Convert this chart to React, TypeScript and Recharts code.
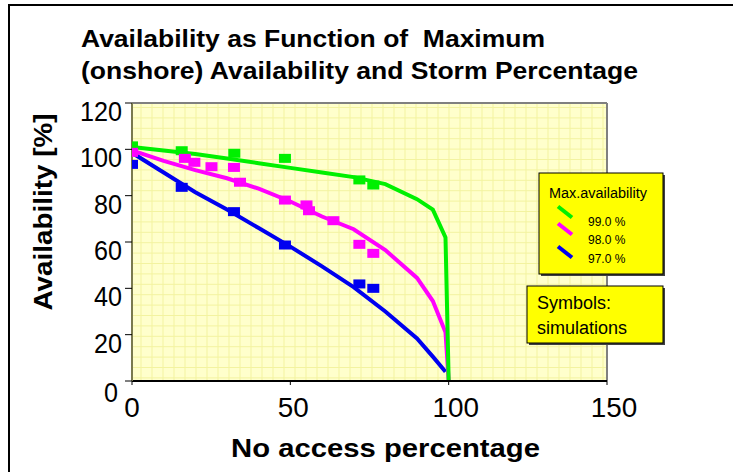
import React from 'react';
import { ComposedChart, Line, Scatter, XAxis, YAxis, CartesianGrid, ReferenceLine } from 'recharts';

// curve values (model)
const curveX = [0, 10, 20, 30, 40, 50, 60, 70, 80, 90, 95, 99, 100];
const avail99 = [101, 99.5, 98, 96, 94, 92, 90, 88, 85, 78.5, 74, 62, 0];
const avail98 = [99.5, 95, 91, 87.5, 83, 77.5, 71, 65.5, 56.5, 44.5, 34.5, 21, 0];
const avail97 = [98.5, 90, 81.5, 74, 66, 58, 49.5, 40.5, 30, 18.4, 10.5, 4, null];

// simulation points (squares)
const sim99X = [0, 15.7, 32.3, 48.3, 71.8, 76.2];
const sim99Y = [101.5, 99.4, 98.3, 96.1, 86.8, 84.6];
const sim98X = [0, 16.7, 19.7, 25.1, 32.2, 34.1, 48.3, 55.1, 55.9, 63.6, 71.8, 76.2];
const sim98Y = [98.7, 96.1, 94.4, 92.5, 92.2, 85.8, 78.1, 76, 73.5, 69.2, 59, 55.1];
const sim97X = [0, 15.7, 32.2, 48.3, 71.8, 76.2];
const sim97Y = [93.5, 83.6, 73.1, 58.7, 41.9, 40];

const xTicks = [0, 50, 100, 150];
const yTicks = [0, 20, 40, 60, 80, 100, 120];

const seriesNames = ['99.0 %', '98.0 %', '97.0 %'];
const seriesColors = ['#00F000', '#FF00FF', '#0000F0'];

const FONT = '"Liberation Sans", Arial, sans-serif';

const toPts = (xs: number[], ys: (number | null)[]) => xs.map((x, i) => ({ x, y: ys[i] }));

const curves = [toPts(curveX, avail99), toPts(curveX, avail98), toPts(curveX, avail97)];
const sims = [toPts(sim99X, sim99Y), toPts(sim98X, sim98Y), toPts(sim97X, sim97Y)];

const Square = (props: any) => {
  const { cx, cy, fill } = props;
  return <rect x={cx - 6} y={cy - 4.5} width={12} height={9} fill={fill} />;
};

const XTick = (props: any) => {
  const { x, y, payload } = props;
  const len = String(payload.value).length;
  const dx = len === 1 ? 0 : len === 2 ? 3 : 7;
  return (
    <text x={x + dx} y={y} dy={30} textAnchor="middle" fontSize={28} fontFamily={FONT} fill="#000"
      textLength={len * 15.5} lengthAdjust="spacingAndGlyphs">
      {payload.value}
    </text>
  );
};

const YTick = (props: any) => {
  const { x, y, payload } = props;
  const zero = payload.value === 0;
  const len = String(payload.value).length;
  return (
    <text x={x - (zero ? 4 : 0)} y={y + (zero ? 21 : 18)} textAnchor="end" fontSize={28} fontFamily={FONT} fill="#000"
      textLength={len * 14} lengthAdjust="spacingAndGlyphs">
      {payload.value}
    </text>
  );
};

export default function App() {
  const gridV = ({ offset }: any) => {
    const out: number[] = [];
    for (let p = offset.left + 9; p < offset.left + offset.width; p += 11) out.push(p);
    return out;
  };
  const gridH = ({ offset }: any) => {
    const out: number[] = [];
    for (let p = offset.top + 4.5; p < offset.top + offset.height; p += 10.4) out.push(p);
    return out;
  };

  return (
    <div style={{ position: 'absolute', left: 0, top: 0, width: 733, height: 472, background: '#fff', overflow: 'hidden' }}>
      <div style={{ position: 'absolute', left: 8, top: 4, width: 800, height: 600, borderTop: '2px solid #000', borderLeft: '2px solid #000' }} />
      <div style={{ position: 'absolute', left: 0, top: 0 }}>
        <ComposedChart width={733} height={472} margin={{ top: 103, right: 126, bottom: 61, left: 72 }}>
          <CartesianGrid
            fill="#FFFFCC"
            stroke="#F3F3A0"
            strokeWidth={1}
            verticalCoordinatesGenerator={gridV}
            horizontalCoordinatesGenerator={gridH}
          />
          <XAxis
            type="number"
            dataKey="x"
            domain={[0, 150]}
            ticks={xTicks}
            allowDataOverflow
            height={30}
            tickSize={4}
            tickMargin={2}
            axisLine={{ stroke: '#000', strokeWidth: 2 }}
            tickLine={{ stroke: '#000' }}
            tick={<XTick />}
          />
          <YAxis
            type="number"
            dataKey="y"
            domain={[0, 120]}
            ticks={yTicks}
            allowDataOverflow
            width={60}
            tickSize={7}
            tickMargin={3}
            axisLine={{ stroke: '#7A7A50', strokeWidth: 2 }}
            tickLine={{ stroke: '#000' }}
            tick={<YTick />}
          />
          <ReferenceLine y={120} stroke="#808080" strokeWidth={2} />
          <ReferenceLine x={150} stroke="#808080" strokeWidth={2} />
          {[2, 1, 0].map((i) => (
            <Line
              key={'l' + i}
              data={curves[i]}
              dataKey="y"
              type="linear"
              stroke={seriesColors[i]}
              strokeWidth={4}
              dot={false}
              activeDot={false}
              isAnimationActive={false}
            />
          ))}
          {[0, 2, 1].map((i) => (
            <Scatter
              key={'s' + i}
              data={sims[i]}
              dataKey="y"
              fill={seriesColors[i]}
              shape={<Square />}
              isAnimationActive={false}
            />
          ))}
        </ComposedChart>
      </div>
      <svg width={733} height={472} style={{ position: 'absolute', left: 0, top: 0, pointerEvents: 'none' }} fontFamily={FONT}>
        <text x={81} y={47} fontSize={24} fontWeight="bold" textLength={464} lengthAdjust="spacingAndGlyphs" style={{ whiteSpace: 'pre' }}>
          Availability as Function of  Maximum
        </text>
        <text x={81} y={79} fontSize={24} fontWeight="bold" textLength={557} lengthAdjust="spacingAndGlyphs">
          (onshore) Availability and Storm Percentage
        </text>
        <text x={231} y={457} fontSize={26} fontWeight="bold" textLength={309} lengthAdjust="spacingAndGlyphs">
          No access percentage
        </text>
        <text transform="translate(52, 212) rotate(-90)" textAnchor="middle" fontSize={26} fontWeight="bold" textLength={197} lengthAdjust="spacingAndGlyphs">
          Availability [%]
        </text>

        {/* legend box */}
        <rect x={541} y={175} width={124} height={101} fill="#404040" />
        <rect x={539} y={173} width={124} height={101} fill="#FFFF00" stroke="#000" strokeWidth={1} />
        <text x={549} y={198} fontSize={14} textLength={98} lengthAdjust="spacingAndGlyphs">Max.availability</text>
        {seriesNames.map((name, i) => {
          const ly = [212, 229, 252][i];
          const ty = [226, 244, 263][i];
          return (
            <g key={name}>
              <line x1={558} y1={ly - 5.5} x2={572} y2={ly + 5.5} stroke={seriesColors[i]} strokeWidth={4} />
              <text x={588} y={ty} fontSize={12}>{name}</text>
            </g>
          );
        })}

        <rect x={529} y={288} width={136} height={57} fill="#404040" />
        <rect x={527} y={286} width={136} height={57} fill="#FFFF00" stroke="#000" strokeWidth={1} />
        <text x={537} y={309} fontSize={18}>Symbols:</text>
        <text x={537} y={334} fontSize={18}>simulations</text>
      </svg>
    </div>
  );
}
